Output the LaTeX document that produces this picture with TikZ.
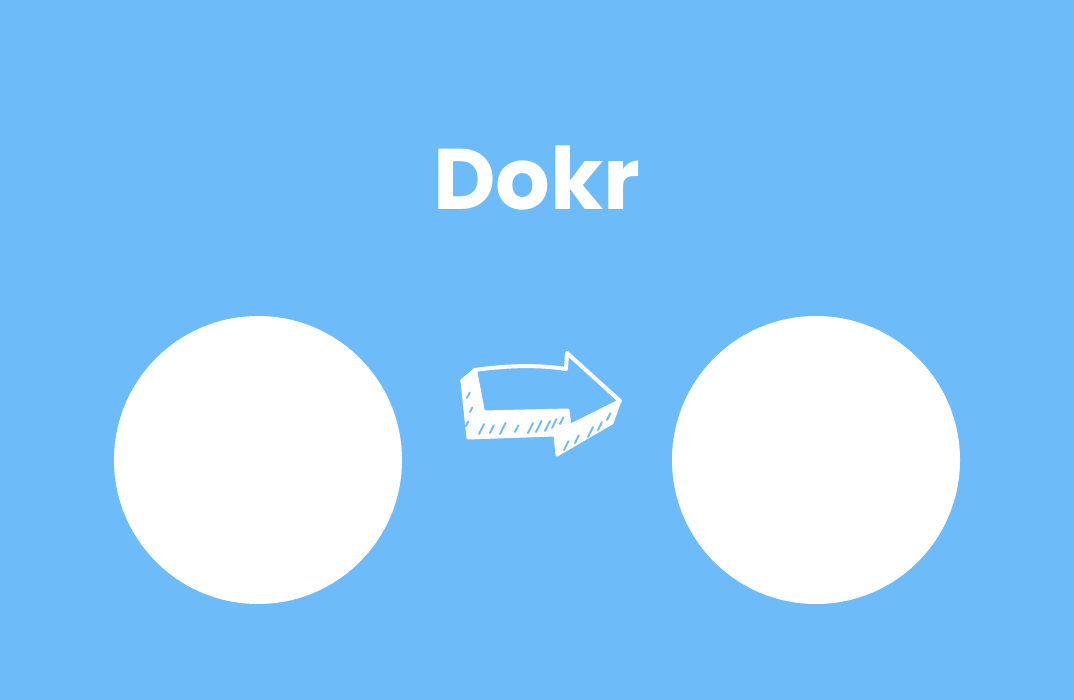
\documentclass[tikz,border=0pt]{standalone}
\usepackage{fontspec}
\newfontfamily\titlefont{Poppins}
\definecolor{bg}{HTML}{6EBBFA}
\begin{document}
\begin{tikzpicture}[x=1pt,y=-1pt,
  ball/.style={circle,fill=white,minimum size=288pt,inner sep=0pt},
  edge/.style={white,line width=4pt,line join=round,line cap=round},
  face/.style={fill=white,draw=white,line width=3pt,line join=round},
  hatch/.style={bg,line width=2pt,line cap=round}]
\fill[bg] (0,0) rectangle (1074,700);
\useasboundingbox (0,0) rectangle (1074,700);
\node[anchor=base,text=white,font=\titlefont\bfseries\fontsize{86}{90}\selectfont] (title) at (537,210) {Dokr};
\node[ball] (left) at (258,460) {};
\node[ball] (right) at (816,460) {};
% hand-drawn 3D arrow
\fill[face] (462,381) -- (475,370) -- (483,412) -- (568,410) -- (570,426) -- (620,401)
  -- (612,423) -- (557,455) -- (555,435) -- (468,438) -- cycle;
\draw[edge] (462,381) -- (475,370) .. controls (510,365) and (540,365) .. (566,369)
  -- (567,353) -- (620,401) -- (570,426);
\draw[edge] (475,370) -- (483,412);
% hatching
\foreach \x/\y/\l in {479/434/9, 490/433/7, 500/434/10, 515/432/6, 528/433/9, 536/432/10, 545/431/9, 552/428/8, 560/424/6,
  564/450/8, 575/443/7, 588/437/9, 598/430/7, 607/420/6, 467/398/5, 470/412/4, 466/426/4}{
  \draw[hatch] (\x,\y) -- ++(0.55*\l,-1.1*\l);
}
\end{tikzpicture}
\end{document}
